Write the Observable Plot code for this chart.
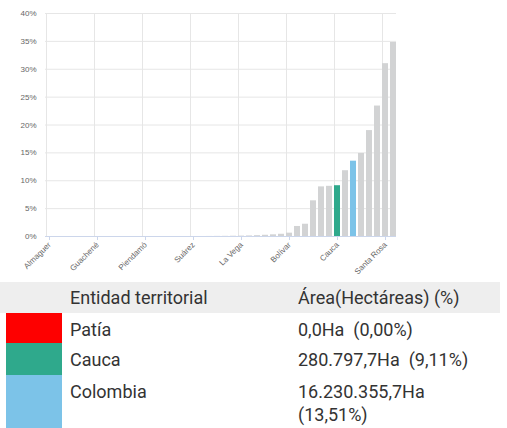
<!DOCTYPE html>
<html>
<head>
<meta charset="utf-8">
<script src="https://cdn.jsdelivr.net/npm/d3@7"></script>
<script src="https://cdn.jsdelivr.net/npm/@observablehq/plot@0.6"></script>
<style>
  html, body { margin: 0; padding: 0; background: #fff; }
  #wrap { position: relative; width: 507px; height: 428px; overflow: hidden; font-family: Roboto, "Noto Sans", sans-serif; color: #333; }
  #chart { position: absolute; left: 0; top: 0; }
  .cell { position: absolute; font-size: 18px; line-height: 23px; white-space: normal; }
  .sw { position: absolute; }
</style>
</head>
<body>
<div id="wrap">
  <div id="chart"></div>
  <div id="table"></div>
</div>
<script>
// ---- Data ----
const categories = [
  "Almaguer", "Argelia", "Balboa", "Buenos Aires", "Caldono", "Caloto",
  "Guachené", "Guapí", "Jambaló", "Mercaderes", "Padilla", "Patía",
  "Piendamó", "Popayán", "Puerto Tejada", "Rosas", "Santander de Quilichao", "Sotará",
  "Suárez", "Timbío", "Toribío", "Totoró", "Villa Rica", "Corinto",
  "La Vega", "Cajibío", "Morales", "Inzá", "Silvia", "El Tambo",
  "Bolívar", "Sucre", "Florencia", "La Sierra", "Puracé", "Páez",
  "Cauca", "Miranda", "Colombia", "San Sebastián", "Timbiquí", "López de Micay",
  "Santa Rosa", "Piamonte"
];
const values = [
  0, 0, 0, 0, 0, 0,
  0, 0, 0, 0, 0, 0,
  0, 0, 0, 0, 0, 0,
  0, 0, 0.01, 0.02, 0.03, 0.05,
  0.07, 0.1, 0.15, 0.22, 0.3, 0.4,
  0.6, 1.8, 2.2, 6.4, 8.9, 9.0,
  9.11, 11.8, 13.51, 14.9, 19.0, 23.4,
  31.0, 34.8
];
const tickLabels = ["Almaguer", "Guachené", "Piendamó", "Suárez", "La Vega", "Bolívar", "Cauca", "Santa Rosa"];
const yTicks = [0, 5, 10, 15, 20, 25, 30, 35, 40];
const highlightNames = ["Patía", "Cauca", "Colombia"];
const highlightColors = ["#fe0000", "#2fa98c", "#7cc3e8"];
const baseColor = "#d2d3d4";

const tableHeader = ["Entidad territorial", "Área(Hectáreas) (%)"];
const tableNames = ["Patía", "Cauca", "Colombia"];
const tableAreas = ["0,0Ha", "280.797,7Ha", "16.230.355,7Ha"];
const tablePcts = ["(0,00%)", "(9,11%)", "(13,51%)"];

// ---- Chart ----
const rows = categories.map((name, i) => {
  const h = highlightNames.indexOf(name);
  return { name, value: values[i], color: h >= 0 ? highlightColors[h] : baseColor };
});

const chart = Plot.plot({
  width: 400,
  height: 280,
  marginLeft: 45,
  marginRight: 4,
  marginTop: 13,
  marginBottom: 44,
  style: { fontFamily: "'Liberation Sans', Arial, sans-serif", background: "transparent" },
  x: { type: "band", domain: categories, paddingInner: 0.25, paddingOuter: 0 },
  y: { domain: [0, 40] },
  marks: [
    Plot.ruleY(yTicks, { stroke: "#e6e6e6", strokeWidth: 1 }),
    Plot.ruleX(tickLabels, { x: d => d, y1: 0, y2: 40, stroke: "#e6e6e6", strokeWidth: 1, dx: -3 }),
    Plot.barY(rows, { x: "name", y: "value", fill: "color" }),
    Plot.ruleY([0], { stroke: "#ccd6eb", strokeWidth: 1.2 }),
    Plot.axisX({ ticks: tickLabels, tickRotate: -45, tickSize: 4, tickPadding: 3, fontSize: 8, stroke: "#ccd6eb", fill: "#666", label: null }),
    Plot.axisY({ ticks: yTicks, tickSize: 0, tickPadding: 9, fontSize: 8, fill: "#666", tickFormat: d => d + "%", label: null })
  ]
});
document.getElementById("chart").appendChild(chart);

// ---- Table ----
const table = document.getElementById("table");
function add(cls, style, text) {
  const el = document.createElement("div");
  el.className = cls;
  Object.assign(el.style, style);
  if (text != null) el.textContent = text;
  table.appendChild(el);
  return el;
}
add("sw", { left: "0px", top: "282px", width: "500px", height: "31px", background: "#eeeeee" });
add("cell", { left: "70px", top: "286px" }, tableHeader[0]);
add("cell", { left: "298px", top: "286px" }, tableHeader[1]);
const swTops = [313, 343, 375];
const swHeights = [30, 32, 60];
const textTops = [318, 348, 380];
tableNames.forEach((n, i) => {
  add("sw", { left: "6px", top: swTops[i] + "px", width: "56px", height: swHeights[i] + "px", background: highlightColors[i] });
  add("cell", { left: "70px", top: textTops[i] + "px" }, n);
  add("cell", { left: "298px", top: textTops[i] + "px", width: "195px" }, tableAreas[i] + "\u00a0 " + tablePcts[i]);
});
</script>
</body>
</html>
